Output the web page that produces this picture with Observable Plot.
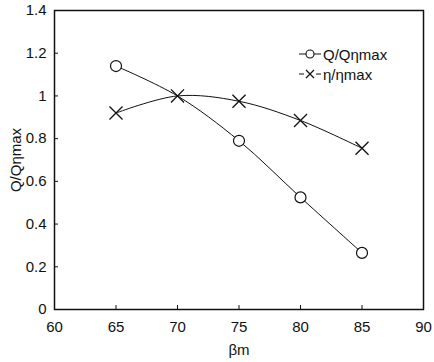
<!DOCTYPE html>
<html>
<head>
<meta charset="utf-8">
<script src="https://cdn.jsdelivr.net/npm/d3@7"></script>
<script src="https://cdn.jsdelivr.net/npm/@observablehq/plot@0.6"></script>
<style>
  html, body { margin: 0; padding: 0; background: #fff; }
  #wrap { position: relative; width: 434px; height: 362px; font-family: "Liberation Sans", Arial, Helvetica, sans-serif; }
  #legend { position: absolute; left: 299px; top: 44px; font-size: 15px; color: #111; }
  #legend .row { display: flex; align-items: center; height: 20px; }
  #legend svg { margin-right: 2px; }
</style>
</head>
<body>
<div id="wrap"></div>
<script>
const betaM = [65, 70, 75, 80, 85];
const qRatio = [1.14, 1.0, 0.79, 0.525, 0.265];
const etaRatio = [0.92, 1.0, 0.975, 0.885, 0.755];
const xTicks = [60, 65, 70, 75, 80, 85, 90];
const yTicks = [0, 0.2, 0.4, 0.6, 0.8, 1, 1.2, 1.4];
const seriesNames = ["Q/Qηmax", "η/ηmax"];

const qData = betaM.map((x, i) => ({x, y: qRatio[i]}));
const etaData = betaM.map((x, i) => ({x, y: etaRatio[i]}));
// in the reference the circle at the crossing point is hidden by the cross
const qDots = qData.filter(d => !etaData.some(e => e.x === d.x && e.y === d.y));

const chart = Plot.plot({
  width: 434,
  height: 362,
  marginLeft: 54,
  marginRight: 11,
  marginTop: 10,
  marginBottom: 53,
  style: {fontFamily: '"Liberation Sans", Arial, Helvetica, sans-serif', fontSize: "15px", color: "#111", background: "#fff"},
  x: {domain: [60, 90], ticks: xTicks, label: null},
  y: {domain: [0, 1.4], ticks: yTicks, label: null},
  marks: [
    Plot.frame({stroke: "#111", strokeWidth: 1.5}),
    Plot.axisX({ticks: xTicks, tickSize: -4, tickPadding: 16, stroke: "#111", label: "βm", labelAnchor: "center", labelOffset: 45, labelArrow: "none", fontSize: 15}),
    Plot.axisY({ticks: yTicks, tickSize: -4, tickPadding: 12, stroke: "#111", tickFormat: d => String(d), label: "Q/Qηmax", labelAnchor: "center", labelOffset: 44, labelArrow: "none", fontSize: 15}),
    Plot.line(qData, {x: "x", y: "y", stroke: "#111", strokeWidth: 1, curve: "catmull-rom"}),
    Plot.line(etaData, {x: "x", y: "y", stroke: "#111", strokeWidth: 1, curve: "catmull-rom"}),
    Plot.dot(qDots, {x: "x", y: "y", r: 5.5, fill: "#fff", stroke: "#111", strokeWidth: 1.2}),
    Plot.dot(etaData, {x: "x", y: "y", r: 6, symbol: "times", stroke: "#111", strokeWidth: 1.3, fill: "none"})
  ]
});

const wrap = document.getElementById("wrap");
wrap.appendChild(chart);

const legend = document.createElement("div");
legend.id = "legend";
legend.innerHTML = `
  <div class="row"><svg width="22" height="12"><line x1="0" y1="6" x2="22" y2="6" stroke="#111" stroke-width="1"/><circle cx="11" cy="6" r="4" fill="#fff" stroke="#111" stroke-width="1.1"/></svg><span>${seriesNames[0]}</span></div>
  <div class="row"><svg width="22" height="12"><line x1="0" y1="6" x2="5" y2="6" stroke="#111" stroke-width="1"/><line x1="17" y1="6" x2="22" y2="6" stroke="#111" stroke-width="1"/><path d="M7,2L15,10M15,2L7,10" stroke="#111" stroke-width="1.2"/></svg><span>${seriesNames[1]}</span></div>`;
wrap.appendChild(legend);
</script>
</body>
</html>
